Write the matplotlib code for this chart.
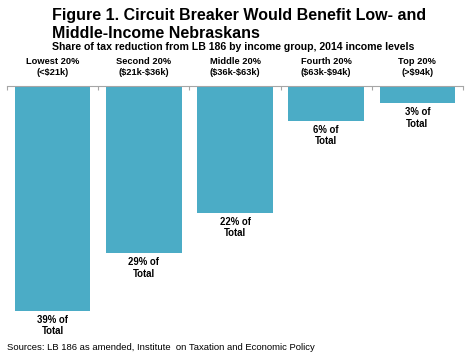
import matplotlib.pyplot as plt
import numpy as np

plt.rcParams["font.family"] = ["Liberation Sans", "DejaVu Sans"]
plt.rcParams["text.parse_math"] = False

COLOR_BAR = "#4bacc6"
COLOR_INK = "#000000"
COLOR_AXIS = "#a6a6a6"

grupos = ["Lowest 20%\n(<$21k)", "Second 20%\n($21k-$36k)", "Middle 20%\n($36k-$63k)",
          "Fourth 20%\n($63k-$94k)", "Top 20%\n(>$94k)"]
participacion = [39, 29, 22, 6, 3]

fig = plt.figure(figsize=(4.75, 3.63), dpi=100)
ax = fig.add_axes([7 / 475, 0, 456 / 475, 1 - 86 / 363])

x = np.arange(len(grupos))
ax.bar(x, [-v for v in participacion], width=0.83, color=COLOR_BAR)
ax.set_xlim(-0.5, len(grupos) - 0.5)
ax.set_ylim(-48, 0)

for s in ["left", "right", "bottom"]:
    ax.spines[s].set_visible(False)
ax.spines["top"].set_color(COLOR_AXIS)
ax.spines["top"].set_linewidth(0.8)
ax.set_yticks([])
ax.xaxis.tick_top()
ax.set_xticks(np.arange(len(grupos) + 1) - 0.5)
ax.set_xticklabels([])
ax.tick_params(axis="x", direction="in", length=3, color=COLOR_AXIS)

for i, (g, v) in enumerate(zip(grupos, participacion)):
    ax.text(i, 1.5, g, ha="center", va="bottom", fontsize=6.7, fontweight="bold",
            color=COLOR_INK, linespacing=1.3)
    ax.text(i, -v - 0.7, f"{v}% of\nTotal", ha="center", va="top", fontsize=6.9,
            fontweight="bold", color=COLOR_INK, linespacing=1.15)

fig.text(52 / 475, 1 - 8 / 363, "Figure 1. Circuit Breaker Would Benefit Low- and\nMiddle-Income Nebraskans",
         ha="left", va="top", fontsize=11.5, fontweight="bold", color=COLOR_INK, linespacing=1.25)
fig.text(52 / 475, 1 - 47 / 363, "Share of tax reduction from LB 186 by income group, 2014 income levels",
         ha="left", va="center", fontsize=7.6, fontweight="bold", color=COLOR_INK)
fig.text(7 / 475, 1 - 347 / 363, "Sources: LB 186 as amended, Institute  on Taxation and Economic Policy",
         ha="left", va="center", fontsize=6.8, color=COLOR_INK)

fig.savefig("out.png", dpi=100)
